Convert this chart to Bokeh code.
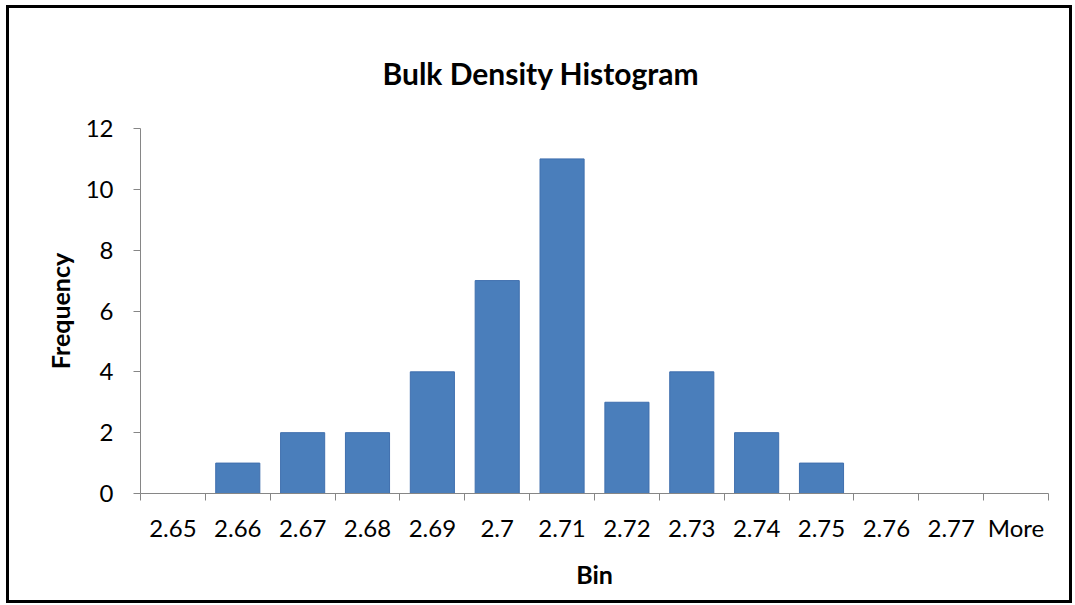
from bokeh.plotting import figure
from bokeh.models import Range1d, FixedTicker
from bokeh.embed import file_html
from bokeh.resources import INLINE

bins = ["2.65", "2.66", "2.67", "2.68", "2.69", "2.7", "2.71", "2.72",
        "2.73", "2.74", "2.75", "2.76", "2.77", "More"]
frequency = [0, 1, 2, 2, 4, 7, 11, 3, 4, 2, 1, 0, 0, 0]
y_ticks = [0, 2, 4, 6, 8, 10, 12]

FONT = "Lato"
AXIS_COLOR = "#868686"

n = len(bins)
xs = [i + 0.5 for i in range(n)]

p = figure(width=1066, height=598, output_backend="svg", toolbar_location=None,
           x_range=Range1d(0, n), y_range=Range1d(0, 12),
           min_border_left=131, min_border_right=27, min_border_top=120,
           min_border_bottom=113, margin=(5, 0, 0, 6),
           styles={"border": "3px solid black"})
p.title.text = "Bulk Density Histogram"
p.title.align = "left"
p.title.text_font = FONT
p.title.text_font_size = "30px"
p.title.text_font_style = "bold"
p.title.text_color = "black"
p.title.offset = 242
p.title.standoff = 75

p.vbar(x=xs, top=frequency, width=0.68, bottom=0,
       fill_color="#4a7ebb", line_color="#3f6fae", line_width=1)

p.xgrid.visible = False
p.ygrid.visible = False
p.outline_line_color = None

xa = p.xaxis[0]
xa.ticker = FixedTicker(ticks=xs, minor_ticks=list(range(n + 1)))
xa.major_label_overrides = {x: b for x, b in zip(xs, bins)}
xa.major_tick_out = 0
xa.major_tick_in = 0
xa.minor_tick_out = 7
xa.minor_tick_in = 0
xa.minor_tick_line_color = AXIS_COLOR
xa.axis_line_color = AXIS_COLOR
xa.major_label_text_font = FONT
xa.major_label_text_font_size = "24px"
xa.major_label_text_color = "black"
xa.major_label_standoff = 12
xa.axis_label = "Bin"
xa.axis_label_text_font = FONT
xa.axis_label_text_font_size = "25px"
xa.axis_label_text_font_style = "bold"
xa.axis_label_text_color = "black"
xa.axis_label_standoff = 14

ya = p.yaxis[0]
ya.ticker = FixedTicker(ticks=y_ticks)
ya.major_tick_out = 7
ya.major_tick_in = 0
ya.minor_tick_out = 0
ya.minor_tick_in = 0
ya.major_tick_line_color = AXIS_COLOR
ya.axis_line_color = AXIS_COLOR
ya.major_label_text_font = FONT
ya.major_label_text_font_size = "24px"
ya.major_label_text_color = "black"
ya.major_label_standoff = 20
ya.axis_label = "Frequency"
ya.axis_label_text_font = FONT
ya.axis_label_text_font_size = "25px"
ya.axis_label_text_font_style = "bold"
ya.axis_label_text_color = "black"
ya.axis_label_standoff = 8

open("out.html", "w").write(file_html(p, INLINE))
